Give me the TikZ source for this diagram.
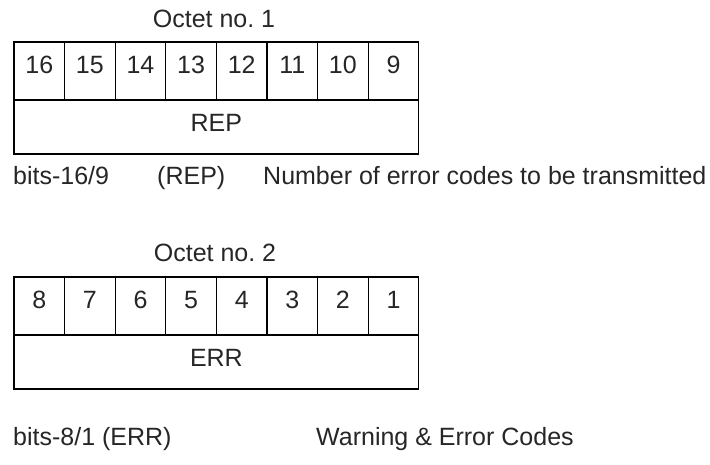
\documentclass[tikz,border=0pt]{standalone}
\usepackage{fontspec}
\setmainfont{Liberation Sans}
\frenchspacing
\begin{document}
\begin{tikzpicture}[x=1pt,y=-1pt,
		every node/.style={font=\fontsize{25}{30}\selectfont,text=black!85},
		bitcell/.style={draw=black,line width=1.2pt,minimum width=50.6pt,minimum height=58pt,inner sep=0pt,text depth=12pt},
		fieldcell/.style={draw=black,line width=1.2pt,minimum width=404.8pt,minimum height=54pt,inner sep=0pt,text depth=8pt},
		caption/.style={anchor=base west,inner sep=0pt}]
		    \useasboundingbox (0,0) rectangle (710,465);
		    % octet 1
		    \node[anchor=base,inner sep=0pt] (oct1) at (214,28) {Octet no. 1};
		    \foreach \n [count=\i from 0] in {16,15,...,9}
		        \node[bitcell] (bit\n) at ({14+50.6*(\i+0.5)},71) {\n};
		    \node[fieldcell] (rep) at (216.4,127) {REP};
		    \node[caption] (bits1) at (13,185) {bits-16/9};
		    \node[caption] (repname) at (157,185) {(REP)};
		    \node[caption] (desc1) at (263,185) {Number of error codes to be transmitted};
		    % octet 2
		    \node[anchor=base,inner sep=0pt] (oct2) at (215,262) {Octet no. 2};
		    \foreach \n [count=\i from 0] in {8,7,...,1}
		        \node[bitcell] (bit\n) at ({14+50.6*(\i+0.5)},306) {\n};
		    \node[fieldcell] (err) at (216.4,362) {ERR};
		    \node[caption] (bits2) at (13,445) {bits-8/1 (ERR)};
		    \node[caption] (desc2) at (316,445) {Warning \& Error Codes};
		\end{tikzpicture}
\end{document}
